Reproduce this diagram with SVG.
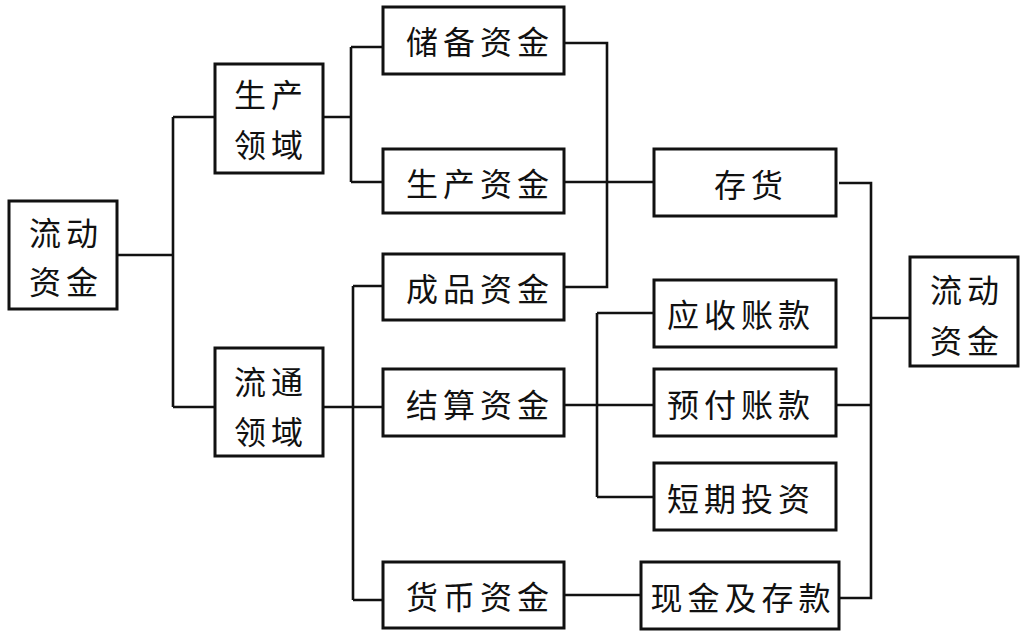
<svg xmlns="http://www.w3.org/2000/svg" width="1026" height="636" viewBox="0 0 1026 636">
<style>
.box{fill:#fff;stroke:#111;stroke-width:3}
.ln{fill:none;stroke:#111;stroke-width:2.6}
text{font-family:"Noto Sans CJK SC","Noto Sans",sans-serif;font-size:32px;fill:#111;text-anchor:middle;dominant-baseline:central;letter-spacing:5px}
</style>
<rect width="1026" height="636" fill="#fff"/>
<g id="connectors">
<path class="ln" d="M117,255 H173 M173,117 V407 M173,117 H215 M173,407 H215"/>
<path class="ln" d="M323,117 H351 M351,47 V182 M351,47 H383 M351,182 H383"/>
<path class="ln" d="M323,407 H383 M353,286 V600 M353,286 H383 M353,600 H383"/>
<path class="ln" d="M564,43 H607 V287 H564 M564,182 H654"/>
<path class="ln" d="M564,405 H654 M597,313 V497 M597,313 H654 M597,497 H654"/>
<path class="ln" d="M564,595 H641"/>
<path class="ln" d="M839,183 H871 V598 H839 M836,405 H871 M871,318 H910"/>
</g>
<g id="n-ldzj-left"><rect class="box" x="9" y="201" width="108" height="108"/><text x="66" y="231">流动</text><text x="66" y="280">资金</text></g>
<g id="n-sc-ly"><rect class="box" x="215" y="64" width="108" height="109"/><text x="271" y="93">生产</text><text x="271" y="143">领域</text></g>
<g id="n-lt-ly"><rect class="box" x="215" y="348" width="108" height="108"/><text x="271" y="380">流通</text><text x="271" y="430">领域</text></g>
<g id="n-cbzj"><rect class="box" x="383" y="7" width="181" height="67"/><text x="480" y="40">储备资金</text></g>
<g id="n-sczj"><rect class="box" x="383" y="149" width="181" height="64"/><text x="480" y="182">生产资金</text></g>
<g id="n-cpzj"><rect class="box" x="383" y="254" width="181" height="66"/><text x="480" y="287">成品资金</text></g>
<g id="n-jszj"><rect class="box" x="383" y="369" width="181" height="67"/><text x="480" y="403">结算资金</text></g>
<g id="n-hbzj"><rect class="box" x="383" y="562" width="181" height="66"/><text x="480" y="595">货币资金</text></g>
<g id="n-ch"><rect class="box" x="654" y="149" width="182" height="67"/><text x="751" y="183">存货</text></g>
<g id="n-yszk"><rect class="box" x="654" y="280" width="182" height="67"/><text x="741" y="313">应收账款</text></g>
<g id="n-yfzk"><rect class="box" x="654" y="369" width="182" height="67"/><text x="741" y="403">预付账款</text></g>
<g id="n-dqtz"><rect class="box" x="654" y="463" width="182" height="67"/><text x="741" y="497">短期投资</text></g>
<g id="n-xjck"><rect class="box" x="641" y="562" width="198" height="67"/><text x="743" y="596">现金及存款</text></g>
<g id="n-ldzj-right"><rect class="box" x="910" y="257" width="108" height="109"/><text x="967" y="288">流动</text><text x="967" y="339">资金</text></g>
</svg>
